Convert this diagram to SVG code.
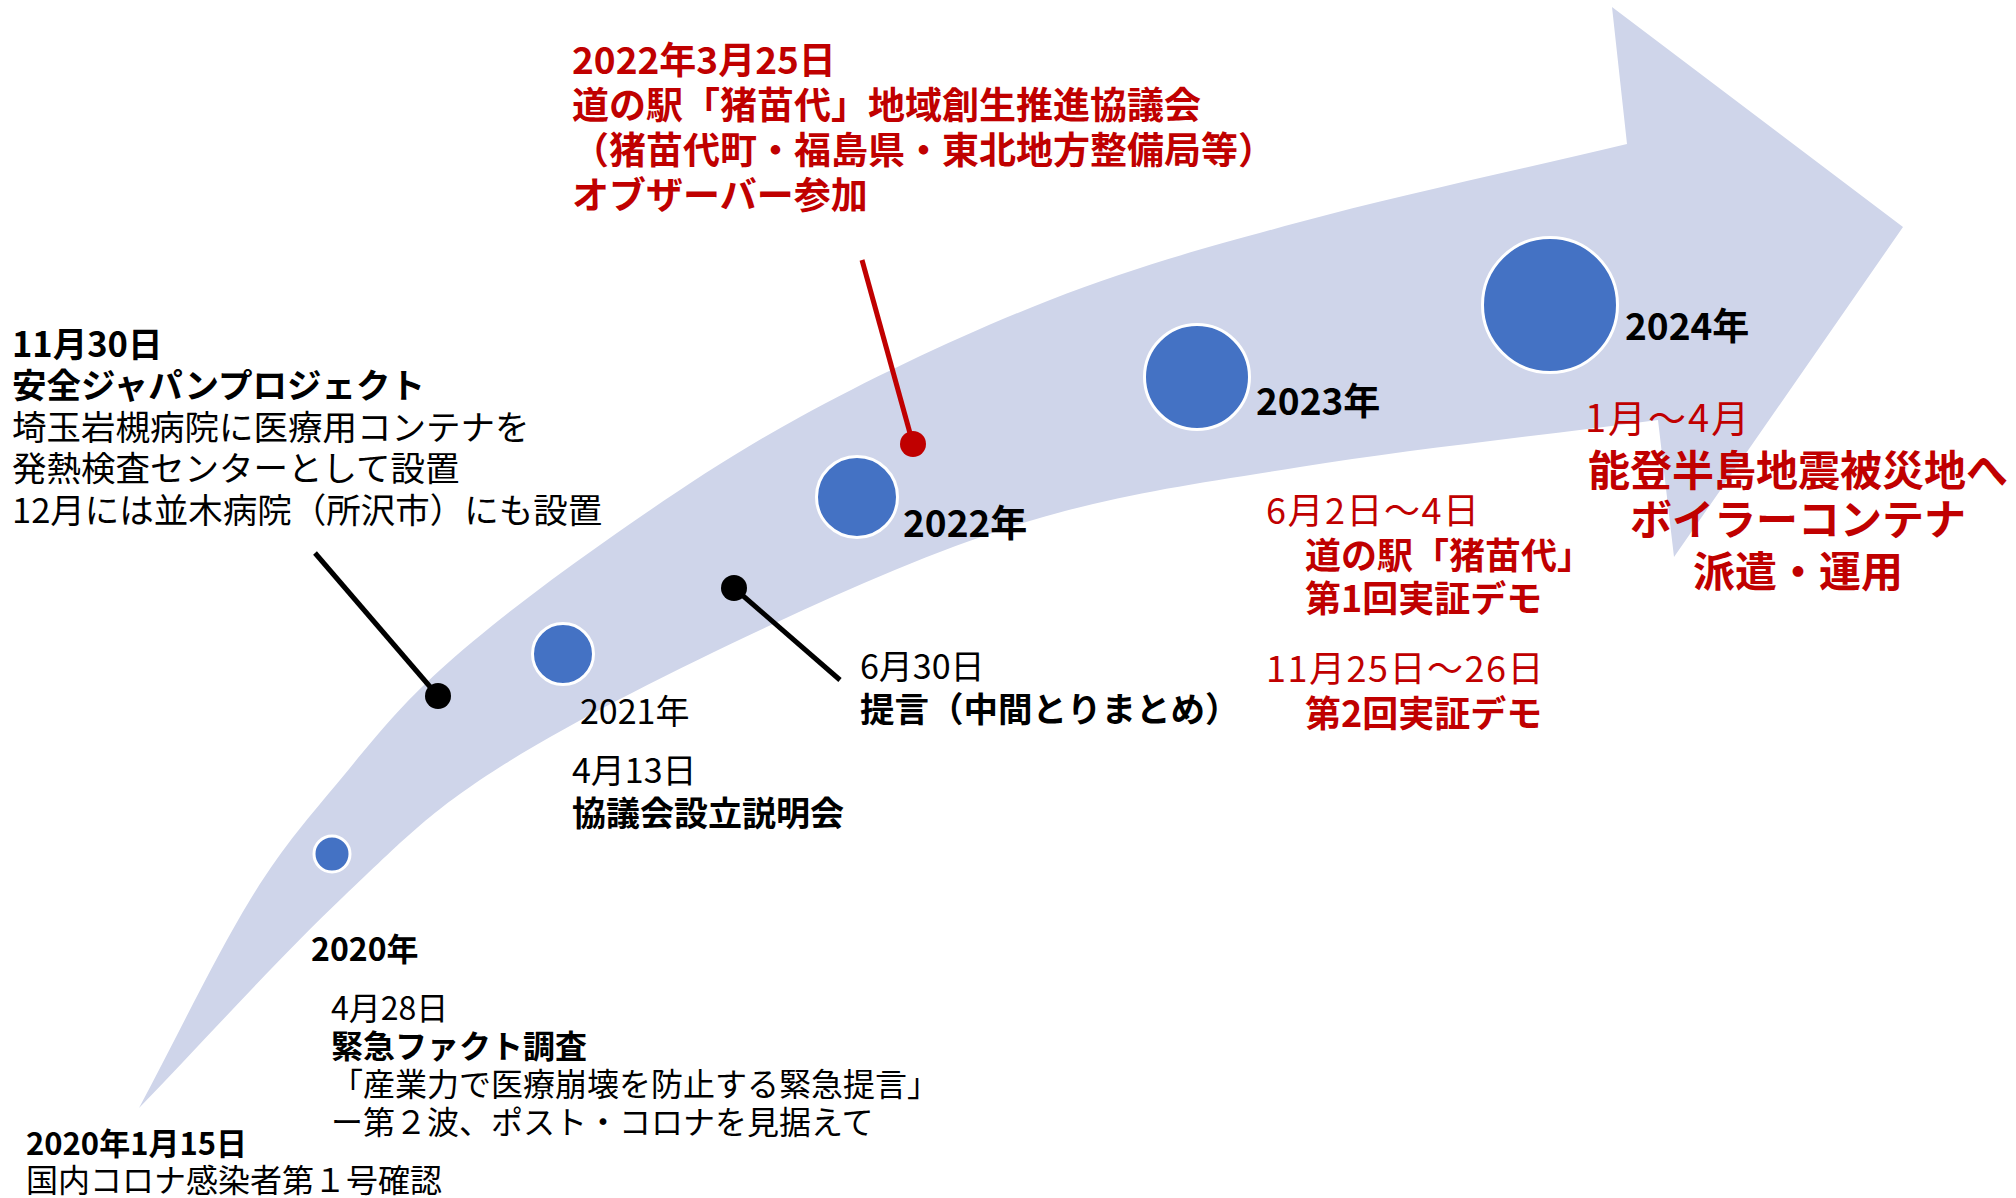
<svg xmlns="http://www.w3.org/2000/svg" width="2016" height="1198" viewBox="0 0 2016 1198">
<style>
text{font-family:"Noto Sans CJK JP","Noto Sans CJK SC",sans-serif;}
.b{font-weight:700;}
.r{font-weight:400;}
.k{fill:#000000;}
.red{fill:#C00000;}
.yr{fill:#4472C4;stroke:#FFFFFF;stroke-width:3;}
.band{fill:#CFD5EA;}
.lk{stroke:#000000;stroke-width:5;fill:none;}
.lr{stroke:#C00000;stroke-width:5;fill:none;}
</style>
<rect width="2016" height="1198" fill="#FFFFFF"/>
<g id="arrow">
<path class="band" d="M139,1108 C176,1038.7 216.5,954.7 250,900 C283.5,845.3 308.3,818.3 340,780 C371.7,741.7 396.7,709.2 440,670 C483.3,630.8 540,587.2 600,545 C660,502.8 725,457.8 800,417 C875,376.2 966.7,332.5 1050,300 C1133.3,267.5 1203.8,248 1300,222 C1396.2,196 1518,170 1627,144 L1612,7 L1903,227 L1674,557 L1658,420 C1538.7,435.7 1404.2,450.3 1300,467 C1195.8,483.7 1121.2,493.7 1033,520 C944.8,546.3 859.8,583.8 771,625 C682.2,666.2 571.3,721.7 500,767 C428.7,812.3 403.2,840.2 343,897 C282.8,953.8 207,1037.7 139,1108 Z"/>
</g>
<g id="connectors">
<line class="lk" x1="315" y1="553" x2="438" y2="696"/>
<line class="lk" x1="734" y1="588" x2="840" y2="680"/>
<line class="lr" x1="862" y1="260" x2="913" y2="444"/>
<circle cx="438" cy="696" r="13" fill="#000000"/>
<circle cx="734" cy="588" r="13" fill="#000000"/>
<circle cx="913" cy="444" r="13" fill="#C00000"/>
</g>
<g id="y2020">
<circle class="yr" cx="332" cy="854" r="18"/>
<text class="b k" x="311" y="961" font-size="32">2020年</text>
</g>
<g id="y2021">
<circle class="yr" cx="563" cy="654" r="30.5"/>
<text class="r k" x="580" y="724" font-size="34">2021年</text>
</g>
<g id="y2022">
<circle class="yr" cx="857" cy="497" r="40.5"/>
<text class="b k" x="903" y="537" font-size="37">2022年</text>
</g>
<g id="y2023">
<circle class="yr" cx="1197" cy="377" r="52.5"/>
<text class="b k" x="1256" y="415" font-size="37">2023年</text>
</g>
<g id="y2024">
<circle class="yr" cx="1550" cy="305" r="67.5"/>
<text class="b k" x="1625" y="340" font-size="37">2024年</text>
</g>
<g id="ev-20200115">
<text class="b k" x="26" y="1155" font-size="31">2020年1月15日</text>
<text class="r k" x="26" y="1192" font-size="32">国内コロナ感染者第１号確認</text>
</g>
<g id="ev-20200428">
<text class="r k" x="331" y="1020" font-size="32">4月28日</text>
<text class="b k" x="331" y="1058" font-size="32">緊急ファクト調査</text>
<text class="r k" x="331" y="1096" font-size="32">「産業力で医療崩壊を防止する緊急提言」</text>
<text class="r k" x="331" y="1134" font-size="32">ー第２波、ポスト・コロナを見据えて</text>
</g>
<g id="ev-1130">
<text class="b k" x="12" y="357" font-size="34.5">11月30日</text>
<text class="b k" x="12" y="398" font-size="34.5">安全ジャパンプロジェクト</text>
<text class="r k" x="12" y="440" font-size="34.5">埼玉岩槻病院に医療用コンテナを</text>
<text class="r k" x="12" y="481" font-size="34.5">発熱検査センターとして設置</text>
<text class="r k" x="12" y="523" font-size="34.5">12月には並木病院（所沢市）にも設置</text>
</g>
<g id="ev-0413">
<text class="r k" x="572" y="783" font-size="34">4月13日</text>
<text class="b k" x="572" y="826" font-size="34">協議会設立説明会</text>
</g>
<g id="ev-0630">
<text class="r k" x="860" y="679" font-size="34">6月30日</text>
<text class="b k" x="860" y="722" font-size="34.5">提言（中間とりまとめ）</text>
</g>
<g id="ev-20220325">
<text class="b red" x="572" y="74" font-size="37">2022年3月25日</text>
<text class="b red" x="572" y="119" font-size="37">道の駅「猪苗代」地域創生推進協議会</text>
<text class="b red" x="572" y="164" font-size="37">（猪苗代町・福島県・東北地方整備局等）</text>
<text class="b red" x="572" y="209" font-size="37">オブザーバー参加</text>
</g>
<g id="ev-2023demo">
<text class="r red" x="1266" y="524" font-size="36" letter-spacing="1.5">6月2日～4日</text>
<text class="b red" x="1305" y="569" font-size="36">道の駅「猪苗代」</text>
<text class="b red" x="1305" y="612" font-size="36">第1回実証デモ</text>
<text class="r red" x="1266" y="682" font-size="36" letter-spacing="1.5">11月25日～26日</text>
<text class="b red" x="1305" y="727" font-size="36">第2回実証デモ</text>
</g>
<g id="ev-2024">
<text class="r red" x="1585" y="432" font-size="38" letter-spacing="2">1月～4月</text>
<text class="b red" x="1798" y="486" font-size="42" text-anchor="middle">能登半島地震被災地へ</text>
<text class="b red" x="1798" y="535" font-size="42" text-anchor="middle">ボイラーコンテナ</text>
<text class="b red" x="1798" y="587" font-size="42" text-anchor="middle">派遣・運用</text>
</g>
</svg>
